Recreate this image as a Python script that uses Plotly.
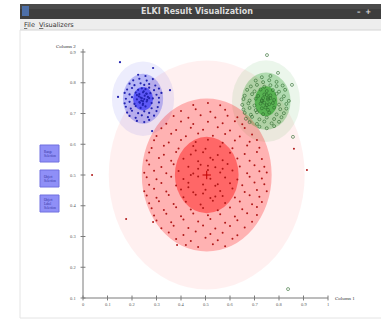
import plotly.graph_objects as go

W, H = 383, 324

# ---- data ----
y_ticks = [0.1, 0.2, 0.3, 0.4, 0.5, 0.6, 0.7, 0.8, 0.9]
y_tick_labels = ["0.1", "0.2", "0.3", "0.4", "0.5", "0.6", "0.7", "0.8", "0.9"]
x_ticks = [0, 0.1, 0.2, 0.3, 0.4, 0.5, 0.6, 0.7, 0.8, 0.9, 1]
x_tick_labels = ["0", "0.1", "0.2", "0.3", "0.4", "0.5", "0.6", "0.7", "0.8", "0.9", "1"]

# cluster models: center and (rx, ry) of the three ellipses (inner, middle, outer)
red_center = (0.505, 0.50)
red_radii = [(0.13, 0.124), (0.265, 0.249), (0.40, 0.372)]
blue_center = (0.245, 0.748)
blue_radii = [(0.041, 0.038), (0.082, 0.081), (0.127, 0.121)]
green_center = (0.747, 0.74)
green_radii = [(0.046, 0.049), (0.10, 0.093), (0.139, 0.133)]

red_pts = [
    (.42,.272),(.47,.266),(.53,.275),(.58,.268),
    (.38,.292),(.44,.285),(.50,.296),(.55,.288),(.61,.293),
    (.35,.313),(.41,.305),(.46,.316),(.52,.308),(.57,.312),(.63,.304),
    (.32,.327),(.37,.335),(.43,.328),(.49,.336),(.54,.326),(.60,.334),(.66,.329),
    (.30,.352),(.36,.346),(.41,.355),(.47,.349),(.52,.357),(.58,.345),(.63,.353),(.69,.348),
    (.29,.368),(.34,.374),(.40,.366),(.45,.375),(.51,.369),(.56,.372),(.62,.365),(.67,.376),(.71,.37),
    (.28,.392),(.33,.386),(.38,.395),(.44,.388),(.49,.393),(.55,.385),(.60,.394),(.65,.389),(.71,.396),
    (.27,.408),(.31,.415),(.37,.406),(.42,.413),(.48,.404),(.53,.416),(.58,.409),(.64,.414),(.69,.405),(.73,.412),
    (.26,.433),(.30,.426),(.35,.435),(.41,.428),(.46,.436),(.52,.425),(.57,.432),(.62,.427),(.68,.434),(.72,.429),
    (.25,.447),(.29,.455),(.34,.446),(.40,.453),(.45,.444),(.50,.452),(.56,.448),(.61,.456),(.66,.445),(.71,.451),(.75,.447),
    (.27,.468),(.32,.474),(.38,.466),(.43,.475),(.49,.469),(.54,.465),(.60,.473),(.65,.467),(.70,.476),(.74,.47),
    (.26,.493),(.30,.486),(.36,.494),(.41,.487),(.47,.495),(.52,.488),(.58,.492),(.63,.485),(.68,.494),(.73,.489),
    (.25,.507),(.29,.514),(.34,.506),(.39,.513),(.45,.505),(.51,.516),(.56,.508),(.61,.515),(.67,.506),(.72,.512),(.75,.508),
    (.27,.534),(.32,.526),(.37,.535),(.43,.527),(.48,.533),(.54,.525),(.59,.536),(.64,.528),(.70,.532),(.74,.527),
    (.26,.547),(.31,.555),(.36,.546),(.41,.553),(.47,.545),(.52,.556),(.57,.548),(.63,.554),(.68,.546),(.73,.552),
    (.27,.573),(.33,.566),(.38,.575),(.44,.567),(.49,.574),(.55,.565),(.60,.572),(.66,.568),(.71,.575),
    (.28,.588),(.33,.595),(.39,.586),(.45,.594),(.50,.585),(.56,.593),(.61,.587),(.67,.596),(.72,.589),
    (.29,.613),(.35,.606),(.40,.614),(.46,.607),(.51,.615),(.57,.605),(.62,.612),(.68,.608),(.71,.614),
    (.30,.627),(.36,.634),(.42,.626),(.47,.635),(.53,.628),(.58,.633),(.64,.625),(.69,.632),
    (.32,.652),(.38,.646),(.44,.654),(.49,.647),(.55,.655),(.60,.645),(.66,.653),
    (.34,.667),(.40,.674),(.45,.666),(.51,.673),(.57,.668),(.62,.675),(.65,.665),
    (.37,.692),(.43,.686),(.48,.694),(.54,.687),(.59,.693),(.63,.688),
    (.40,.708),(.46,.714),(.52,.706),(.58,.712),
    (.45,.728),(.51,.734),(.56,.727),
    (.44,.50),(.55,.47),(.49,.44),(.53,.55),(.46,.58),(.57,.52),(.43,.46),(.51,.53),(.47,.52),(.54,.43),
    (.037,.50),(.176,.357),(.286,.347),(.384,.272),(.861,.585),(.914,.516),
]

blue_pts = [
    (.22,.676),(.25,.672),(.27,.679),
    (.19,.692),(.215,.686),(.24,.694),(.265,.688),(.29,.693),
    (.18,.703),(.20,.709),(.225,.701),(.25,.707),(.27,.702),(.30,.708),
    (.175,.722),(.195,.716),(.215,.724),(.235,.718),(.255,.723),(.28,.717),(.305,.721),
    (.17,.733),(.19,.738),(.21,.731),(.23,.737),(.245,.732),(.26,.739),(.28,.734),(.31,.736),
    (.175,.748),(.20,.753),(.22,.746),(.235,.752),(.25,.747),(.265,.754),(.285,.749),(.31,.751),
    (.17,.767),(.19,.762),(.215,.768),(.23,.763),(.245,.769),(.26,.764),(.275,.766),(.30,.761),(.32,.767),
    (.18,.778),(.20,.783),(.225,.777),(.24,.782),(.255,.779),(.27,.784),(.29,.776),(.31,.781),
    (.19,.797),(.21,.792),(.235,.798),(.25,.793),(.27,.796),(.295,.791),
    (.205,.808),(.23,.813),(.26,.807),(.285,.812),
    (.225,.826),(.255,.822),
    (.238,.742),(.252,.758),(.228,.756),(.262,.744),(.244,.728),(.248,.772),
    (.232,.735),(.258,.765),(.24,.75),(.22,.76),(.27,.75),(.245,.74),
    (.151,.867),(.286,.848),(.355,.776),(.143,.754),(.282,.643),
]

green_pts = [
    (.72,.657),(.75,.652),(.78,.659),
    (.68,.672),(.71,.666),(.74,.674),(.77,.668),(.80,.673),
    (.665,.683),(.69,.689),(.72,.681),(.75,.687),(.78,.682),(.81,.688),
    (.66,.702),(.685,.696),(.71,.704),(.735,.698),(.76,.703),(.79,.697),(.82,.701),
    (.655,.713),(.68,.718),(.705,.711),(.73,.717),(.755,.712),(.78,.719),(.805,.714),(.83,.716),
    (.65,.728),(.675,.733),(.70,.726),(.725,.732),(.75,.727),(.775,.734),(.80,.729),(.83,.731),
    (.655,.747),(.68,.742),(.705,.748),(.73,.743),(.755,.749),(.78,.744),(.81,.746),(.84,.741),
    (.66,.758),(.69,.763),(.715,.757),(.74,.762),(.765,.759),(.79,.764),(.82,.756),
    (.67,.777),(.70,.772),(.725,.778),(.75,.773),(.775,.776),(.80,.771),(.825,.777),
    (.685,.788),(.71,.793),(.74,.787),(.765,.792),(.79,.789),(.815,.791),
    (.705,.807),(.735,.802),(.76,.808),(.79,.803),
    (.73,.818),(.765,.822),
    (.74,.735),(.755,.745),(.735,.75),(.76,.73),(.745,.72),(.75,.76),(.73,.74),(.765,.75),
    (.751,.89),(.796,.832),(.853,.793),(.857,.624),(.837,.129),
]

tool_buttons = ["Range<br>Selection", "Object<br>Selection", "Object<br>Label<br>Selection"]

# ---- pixel geometry of the plot: x=0 at px 83, x=1 at px 328; y=0.1 at px 298, y=0.9 at px 52 ----
X0PX, XSCALE = 83.0, 245.0
Y0PX, YSCALE = 298.0, 307.5
xr = [(0 - X0PX) / XSCALE, (W - X0PX) / XSCALE]
yr = [0.1 + (Y0PX - H) / YSCALE, 0.1 + Y0PX / YSCALE]


def px(x):
    return x / W


def py(y):
    return 1 - y / H


fig = go.Figure()

shapes = []
# window chrome
shapes.append(dict(type="rect", xref="paper", yref="paper", x0=px(20), x1=px(381), y0=py(19), y1=py(4),
                   fillcolor="#3e3e3e", line=dict(width=0), layer="below"))
shapes.append(dict(type="rect", xref="paper", yref="paper", x0=px(20), x1=px(381), y0=py(9), y1=py(4),
                   fillcolor="#4a4a4a", line=dict(width=0), layer="below"))
shapes.append(dict(type="rect", xref="paper", yref="paper", x0=px(22), x1=px(29), y0=py(16), y1=py(6),
                   fillcolor="#4d6fa8", line=dict(width=0), layer="below"))
shapes.append(dict(type="rect", xref="paper", yref="paper", x0=px(20), x1=px(381), y0=py(30), y1=py(19),
                   fillcolor="#ededed", line=dict(width=0), layer="below"))
shapes.append(dict(type="line", xref="paper", yref="paper", x0=px(20), x1=px(381), y0=py(30), y1=py(30),
                   line=dict(color="#d4d4d4", width=1), layer="below"))
shapes.append(dict(type="line", xref="paper", yref="paper", x0=px(20), x1=px(20), y0=py(30), y1=py(318),
                   line=dict(color="#e4e4e4", width=1), layer="below"))
shapes.append(dict(type="line", xref="paper", yref="paper", x0=px(20), x1=px(381), y0=py(318), y1=py(318),
                   line=dict(color="#e4e4e4", width=1), layer="below"))

# cluster ellipses
fills = {
    "red": ["rgba(255,0,0,0.42)", "rgba(255,0,0,0.26)", "rgba(255,0,0,0.06)"],
    "blue": ["rgba(20,20,255,0.55)", "rgba(40,40,230,0.28)", "rgba(60,60,230,0.09)"],
    "green": ["rgba(0,150,0,0.50)", "rgba(0,140,0,0.25)", "rgba(0,140,0,0.08)"],
}
models = [("red", red_center, red_radii), ("blue", blue_center, blue_radii), ("green", green_center, green_radii)]
for level in (2, 1, 0):
    for name, (cx, cy), radii in models:
        rx, ry = radii[level]
        shapes.append(dict(type="circle", xref="x", yref="y", x0=cx - rx, x1=cx + rx, y0=cy - ry, y1=cy + ry,
                           fillcolor=fills[name][level], line=dict(width=0), layer="below"))

# axes
axis_col = "#7a7a7a"
shapes.append(dict(type="line", xref="x", yref="y", x0=0, x1=0, y0=0.1, y1=0.91, line=dict(color=axis_col, width=1)))
shapes.append(dict(type="line", xref="x", yref="y", x0=0, x1=1, y0=0.1, y1=0.1, line=dict(color=axis_col, width=1)))
for t in y_ticks:
    shapes.append(dict(type="line", xref="x", yref="y", x0=-0.01, x1=0.01, y0=t, y1=t, line=dict(color=axis_col, width=1)))
for t in x_ticks:
    shapes.append(dict(type="line", xref="x", yref="y", x0=t, x1=t, y0=0.092, y1=0.108, line=dict(color=axis_col, width=1)))

# tool buttons
btn_tops = [145, 170, 195]
for top in btn_tops:
    shapes.append(dict(type="rect", xref="paper", yref="paper", x0=px(40), x1=px(59), y0=py(top + 17), y1=py(top),
                       fillcolor="#8f8ff7", line=dict(color="#7070e0", width=1), layer="below"))

annotations = []
annotations.append(dict(text="<b>ELKI Result Visualization</b>", xref="paper", yref="paper", x=px(197), y=py(11.5),
                        showarrow=False, font=dict(family="DejaVu Sans", size=8, color="#dcdcdc"),
                        xanchor="center", yanchor="middle"))
annotations.append(dict(text="<b>–  +</b>", xref="paper", yref="paper", x=px(364), y=py(11.5), showarrow=False,
                        font=dict(family="DejaVu Sans", size=7, color="#e0e0e0"), xanchor="center", yanchor="middle"))
annotations.append(dict(text="<u>F</u>ile  <u>V</u>isualizers", xref="paper", yref="paper", x=px(22), y=py(24.5),
                        showarrow=False, font=dict(family="DejaVu Sans", size=6.5, color="#333333"),
                        xanchor="left", yanchor="middle"))
for top, label in zip(btn_tops, tool_buttons):
    annotations.append(dict(text=label, xref="paper", yref="paper", x=px(49.5), y=py(top + 8.5), showarrow=False,
                            font=dict(family="Liberation Serif", size=3.2, color="#3030a0"),
                            xanchor="center", yanchor="middle", align="left"))

lab_font = dict(family="Liberation Serif", size=4.5, color="#555555")
for t, lab in zip(y_ticks, y_tick_labels):
    annotations.append(dict(text=lab, x=-0.022, y=t, xref="x", yref="y", showarrow=False, font=lab_font,
                            xanchor="right", yanchor="middle"))
for t, lab in zip(x_ticks, x_tick_labels):
    annotations.append(dict(text=lab, x=t, y=0.092, xref="x", yref="y", showarrow=False, font=lab_font,
                            xanchor="center", yanchor="top"))
annotations.append(dict(text="Column 2", x=-0.07, y=0.918, xref="x", yref="y", showarrow=False,
                        font=dict(family="Liberation Serif", size=5, color="#333333"), xanchor="center", yanchor="middle"))
annotations.append(dict(text="Column 1", x=1.02, y=0.1, xref="x", yref="y", showarrow=False,
                        font=dict(family="Liberation Serif", size=5, color="#333333"), xanchor="left", yanchor="middle"))

# points
rx_, ry_ = zip(*red_pts)
bx_, by_ = zip(*blue_pts)
gx_, gy_ = zip(*green_pts)
fig.add_trace(go.Scatter(x=rx_, y=ry_, mode="markers", marker=dict(size=2, color="#b01818"), hoverinfo="skip"))
fig.add_trace(go.Scatter(x=bx_, y=by_, mode="markers", marker=dict(size=2.2, color="#2222b0"), hoverinfo="skip"))
fig.add_trace(go.Scatter(x=gx_, y=gy_, mode="markers",
                         marker=dict(size=3, color="rgba(0,0,0,0)", line=dict(color="#2d6a2d", width=0.6)),
                         hoverinfo="skip"))
fig.add_trace(go.Scatter(x=[red_center[0]], y=[red_center[1]], mode="markers",
                         marker=dict(symbol="cross-thin", size=6, line=dict(color="#c00000", width=1)), hoverinfo="skip"))

fig.update_layout(
    width=W, height=H, margin=dict(l=0, r=0, t=0, b=0),
    paper_bgcolor="white", plot_bgcolor="white", showlegend=False,
    xaxis=dict(range=xr, visible=False, fixedrange=True),
    yaxis=dict(range=yr, visible=False, fixedrange=True),
    shapes=shapes, annotations=annotations,
)

fig.write_html("out.html", config={"displayModeBar": False},
               post_script="document.body.style.margin='0px';document.body.style.overflow='hidden';")
